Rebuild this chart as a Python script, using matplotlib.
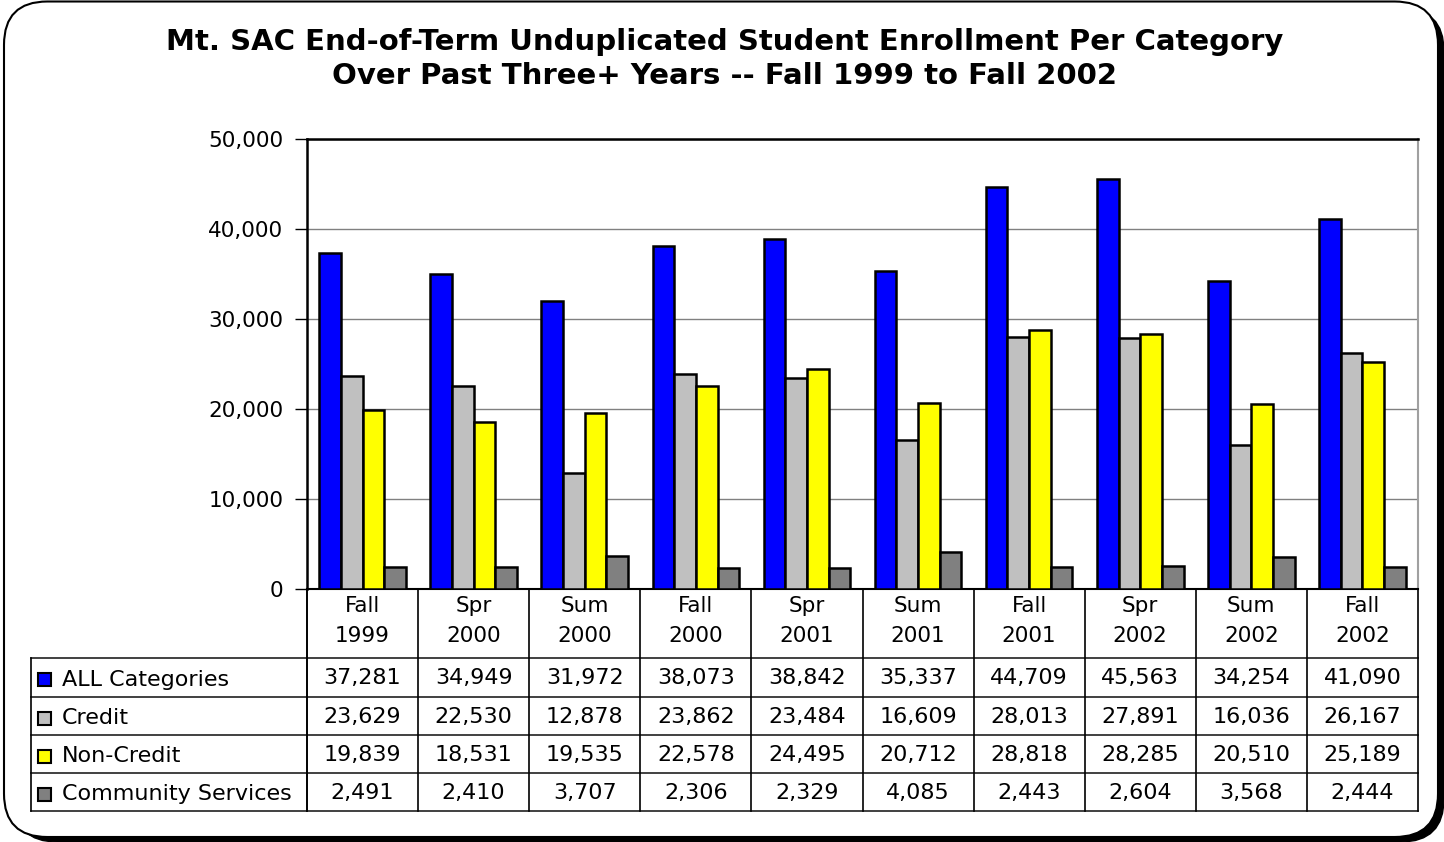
import matplotlib
matplotlib.use("Agg")
import matplotlib.pyplot as plt
from matplotlib.patches import FancyBboxPatch, Rectangle
from matplotlib.transforms import blended_transform_factory
import numpy as np

plt.rcParams['font.family'] = ['DejaVu Sans']

terms = ["Fall\n1999", "Spr\n2000", "Sum\n2000", "Fall\n2000", "Spr\n2001",
         "Sum\n2001", "Fall\n2001", "Spr\n2002", "Sum\n2002", "Fall\n2002"]
series_names = ["ALL Categories", "Credit", "Non-Credit", "Community Services"]
all_categories = [37281, 34949, 31972, 38073, 38842, 35337, 44709, 45563, 34254, 41090]
credit = [23629, 22530, 12878, 23862, 23484, 16609, 28013, 27891, 16036, 26167]
non_credit = [19839, 18531, 19535, 22578, 24495, 20712, 28818, 28285, 20510, 25189]
community = [2491, 2410, 3707, 2306, 2329, 4085, 2443, 2604, 3568, 2444]
colors = ["#0000FF", "#C0C0C0", "#FFFF00", "#808080"]
yticks = [0, 10000, 20000, 30000, 40000, 50000]

series = [all_categories, credit, non_credit, community]

W, H = 1444, 842
fig = plt.figure(figsize=(W / 100, H / 100), dpi=100)

def fx(px):
    return px / W

def fy(py):
    return 1 - py / H

# outer rounded border with shadow
shadow = FancyBboxPatch((fx(14), fy(842)), fx(1444 - 14), fy(8) - fy(842),
                        boxstyle="round,pad=0,rounding_size=0.03",
                        transform=fig.transFigure, facecolor="black",
                        edgecolor="black", zorder=0, mutation_aspect=W / H)
fig.add_artist(shadow)
frame = FancyBboxPatch((fx(4), fy(837)), fx(1438 - 4), fy(1.5) - fy(837),
                       boxstyle="round,pad=0,rounding_size=0.03",
                       transform=fig.transFigure, facecolor="white",
                       edgecolor="black", linewidth=1.5, zorder=0.5,
                       mutation_aspect=W / H)
fig.add_artist(frame)

# title
fig.text(fx(725), fy(42), "Mt. SAC End-of-Term Unduplicated Student Enrollment Per Category",
         ha="center", va="center", fontsize=21, fontweight="bold")
fig.text(fx(725), fy(76), "Over Past Three+ Years -- Fall 1999 to Fall 2002",
         ha="center", va="center", fontsize=21, fontweight="bold")

left, right, top, bottom = 307, 1418, 139, 589
ax = fig.add_axes([fx(left), fy(bottom), fx(right - left), fy(top) - fy(bottom)])
ax.set_zorder(2)
ax.patch.set_alpha(0)

n = len(terms)
x = np.arange(n)
bw = 0.195
offsets = (np.arange(4) - 1.5) * bw
for s, vals, c, off in zip(series_names, series, colors, offsets):
    ax.bar(x + off, vals, width=bw, color=c, edgecolor="black", linewidth=1.8,
           zorder=3, label=s)

ax.set_xlim(-0.5, n - 0.5)
ax.set_ylim(0, 50000)
ax.set_yticks(yticks)
ax.set_yticklabels([f"{v:,}" for v in yticks], fontsize=15.5)
ax.tick_params(axis="y", length=9, width=1, pad=8)
ax.set_xticks([])
ax.yaxis.grid(True, color="#808080", linewidth=1, zorder=0)
ax.set_axisbelow(True)
for sp in ["top", "left"]:
    ax.spines[sp].set_linewidth(1.8)
ax.spines["right"].set_color("#A0A0A0")
ax.spines["right"].set_linewidth(1.5)
ax.spines["bottom"].set_linewidth(1.5)

# data table
tr = blended_transform_factory(ax.transData, fig.transFigure)
row_lines = [658, 697, 735, 773, 811]
table_bottom = 811
for i in range(n + 1):
    xb = i - 0.5
    ax.plot([xb, xb], [fy(bottom), fy(table_bottom)], transform=tr, color="black",
            linewidth=1.2, clip_on=False, zorder=5)
for ry in row_lines:
    fig.add_artist(plt.Line2D([fx(31), fx(right)], [fy(ry), fy(ry)],
                              transform=fig.transFigure, color="#202020", linewidth=1.2))
fig.add_artist(plt.Line2D([fx(31), fx(31)], [fy(658), fy(table_bottom)],
                          transform=fig.transFigure, color="black", linewidth=1.2))
fig.add_artist(plt.Line2D([fx(left), fx(left)], [fy(bottom), fy(table_bottom)],
                          transform=fig.transFigure, color="black", linewidth=1.2))

for i, t in enumerate(terms):
    ax.text(i, fy(621), t, transform=tr, ha="center", va="center", fontsize=15.5,
            linespacing=1.6, clip_on=False)

for r, (name, vals, c) in enumerate(zip(series_names, series, colors)):
    ytop, ybot = row_lines[r], row_lines[r + 1]
    yc = (ytop + ybot) / 2 + 2
    fig.add_artist(Rectangle((fx(38), fy(yc + 6.5)), fx(13), fy(yc - 6.5) - fy(yc + 6.5),
                             transform=fig.transFigure, facecolor=c,
                             edgecolor="black", linewidth=1.5))
    fig.text(fx(62), fy(yc), name, ha="left", va="center", fontsize=16)
    for i, v in enumerate(vals):
        ax.text(i, fy(yc - 1), f"{v:,}", transform=tr, ha="center", va="center",
                fontsize=16, clip_on=False)

fig.savefig("out.png", dpi=100)
